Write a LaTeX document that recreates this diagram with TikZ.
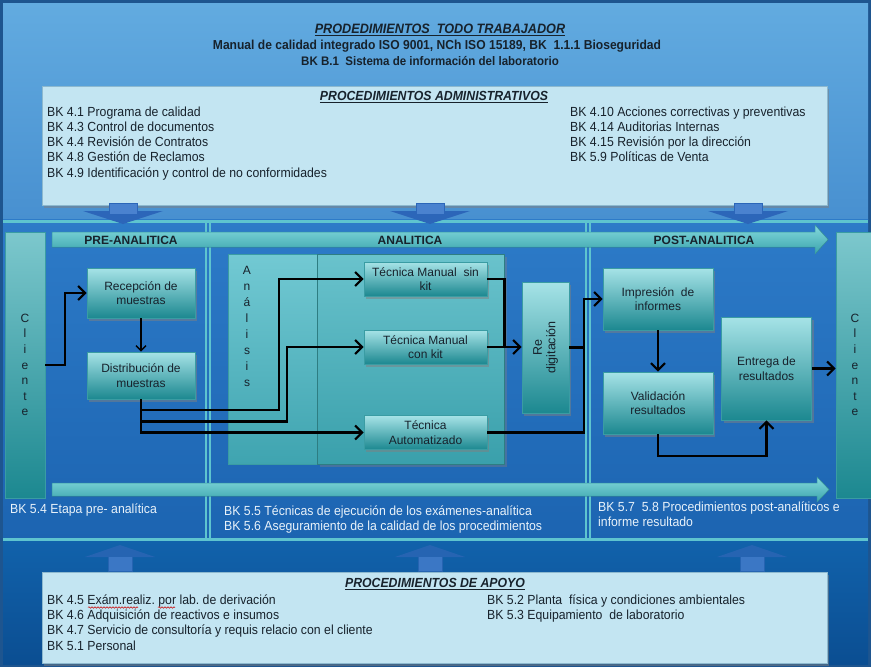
\documentclass[tikz,border=0pt]{standalone}
\usepackage{fontspec}
\setmainfont{Liberation Sans}
\newfontfamily\narrowfont[FakeStretch=0.93]{Liberation Sans}
\usetikzlibrary{arrows.meta,shadows,calc,decorations.pathmorphing}

\definecolor{skytop}{HTML}{62ABE0}
\definecolor{skybot}{HTML}{4890D0}
\definecolor{midtop}{HTML}{2D7BC8}
\definecolor{midbot}{HTML}{1C64B1}
\definecolor{lowtop}{HTML}{1162AB}
\definecolor{lowbot}{HTML}{0B4E92}
\definecolor{frame}{HTML}{1E558F}
\definecolor{paleblue}{HTML}{C3E5F2}
\definecolor{paleedge}{HTML}{8DB9CF}
\definecolor{tealhi}{HTML}{A6E3E7}
\definecolor{teallo}{HTML}{1C8890}
\definecolor{tealedge}{HTML}{3A9CA3}
\definecolor{tealline}{HTML}{5EC4CF}
\definecolor{bandhi}{HTML}{84D9DD}
\definecolor{bandlo}{HTML}{3AA4AC}
\definecolor{panelhi}{HTML}{72C9D3}
\definecolor{panello}{HTML}{3FA4B0}
\definecolor{inkdark}{HTML}{17222C}
\definecolor{darrow}{HTML}{2C66B9}
\definecolor{darrowstem}{HTML}{4A82CF}
\definecolor{uarrow}{HTML}{2664B2}
\definecolor{uarrowstem}{HTML}{3B77C5}
\definecolor{noteink}{HTML}{E8F2FA}

\begin{document}
\begin{tikzpicture}[x=1pt,y=-1pt,
  stagebox/.style={draw=tealedge, line width=0.6pt, top color=tealhi, bottom color=teallo,
    drop shadow={shadow xshift=2pt,shadow yshift=-2.5pt,opacity=0.5},
    font=\fontsize{12}{14.5}\selectfont, text=inkdark, align=center, inner sep=2pt},
  clientbox/.style={draw=tealedge, line width=0.6pt, top color=tealhi!70!teallo, bottom color=teallo,
    font=\fontsize{12}{15.6}\selectfont, text=inkdark, align=center, inner sep=0pt},
  infobox/.style={draw=paleedge, line width=0.8pt, fill=paleblue,
    drop shadow={shadow xshift=2pt,shadow yshift=-2.5pt,opacity=0.5}},
  infotext/.style={font=\narrowfont\fontsize{13.2}{15.2}\selectfont, text=inkdark, align=left, inner sep=0pt, anchor=north west},
  infohead/.style={font=\narrowfont\bfseries\itshape\fontsize{13.2}{15}\selectfont, text=inkdark, inner sep=0pt},
  notetext/.style={font=\narrowfont\fontsize{13.2}{15.2}\selectfont, text=noteink, align=left, inner sep=0pt, anchor=north west},
  bandlabel/.style={font=\bfseries\fontsize{12}{14}\selectfont, text=inkdark, inner sep=0pt},
  conn/.style={line width=2.2pt, draw=black},
  tip/.style={-{Straight Barb[length=7pt,width=14pt]}},
  sepline/.style={draw=tealline, line width=1.3pt},
  dnarrow/.pic={
    \fill[darrow] (-40,8) -- (40,8) -- (0,21) -- cycle;
    \fill[darrowstem, draw=darrow, line width=1pt] (-14,0) rectangle (14,11);
  },
  uparrow/.pic={
    \fill[uarrow] (-35,12) -- (35,12) -- (0,0) -- cycle;
    \fill[uarrowstem, draw=uarrow, line width=1pt] (-12,11) rectangle (12,26);
  }
]
\useasboundingbox (0,0) rectangle (871,667);

% ---------- background bands ----------
\fill[frame] (0,0) rectangle (871,667);
\fill[top color=skytop, bottom color=skybot] (3,3) rectangle (868,219);
\fill[top color=midtop, bottom color=midbot] (3,219) rectangle (868,540);
\fill[top color=lowtop, bottom color=lowbot] (3,540) rectangle (868,664);

% separators between the stages
\draw[draw=tealline, line width=3pt] (3,221) -- (868,221);
\draw[draw=tealline, line width=3pt] (3,539) -- (868,539);
\foreach \sx in {206,210,586,590}
  \draw[sepline] (\sx,222) -- (\sx,538);

% ---------- header ----------
\node[infohead, font=\narrowfont\bfseries\itshape\fontsize{13.6}{15}\selectfont] (ttl) at (440,30)
  {\underline{PRODEDIMIENTOS\ \ TODO TRABAJADOR}};
\node[font=\narrowfont\bfseries\fontsize{13}{15}\selectfont, text=inkdark, inner sep=0pt] (ttl2) at (437,46)
  {Manual de calidad integrado ISO 9001, NCh ISO 15189, BK\ \ 1.1.1 Bioseguridad};
\node[font=\narrowfont\bfseries\fontsize{12.4}{15}\selectfont, text=inkdark, inner sep=0pt] (ttl3) at (430,61)
  {BK B.1\ \ Sistema de información del laboratorio};

% ---------- administrative procedures ----------
\node[infobox, minimum width=785pt, minimum height=119pt] (adm) at (434.5,145.5) {};
\node[infohead] (admh) at (434,97) {\underline{PROCEDIMIENTOS ADMINISTRATIVOS}};
\node[infotext] (admL) at (47,106.5) {BK 4.1 Programa de calidad\\BK 4.3 Control de documentos\\BK 4.4 Revisión de Contratos\\BK 4.8 Gestión de Reclamos\\BK 4.9 Identificación y control de no conformidades};
\node[infotext] (admR) at (570,106.5) {BK 4.10 Acciones correctivas y preventivas\\BK 4.14 Auditorias Internas\\BK 4.15 Revisión por la dirección\\BK 5.9 Políticas de Venta};

\pic at (123,203) {dnarrow};
\pic at (430,203) {dnarrow};
\pic at (748,203) {dnarrow};

% ---------- stage bands ----------
\fill[top color=bandhi, bottom color=bandlo, draw=tealedge, line width=0.5pt]
  (52,232) -- (815,232) -- (815,225) -- (828,239.5) -- (815,254) -- (815,247) -- (52,247) -- cycle;
\fill[top color=bandhi, bottom color=bandlo, draw=tealedge, line width=0.5pt]
  (52,483) -- (817,483) -- (817,477) -- (829,489.5) -- (817,502) -- (817,496) -- (52,496) -- cycle;
\node[bandlabel] (lpre) at (131,240) {PRE-ANALITICA};
\node[bandlabel] (lana) at (410,240) {ANALITICA};
\node[bandlabel] (lpost) at (704,240) {POST-ANALITICA};

% ---------- clients ----------
\node[clientbox, minimum width=40pt, minimum height=266pt] (cliL) at (25,365) {C\\l\\i\\e\\n\\t\\e};
\node[clientbox, minimum width=38pt, minimum height=266pt] (cliR) at (855,365) {C\\l\\i\\e\\n\\t\\e};

% ---------- analysis panel ----------
\node[draw=tealedge, line width=0.6pt, top color=panelhi, bottom color=panello,
      minimum width=276pt, minimum height=210pt, inner sep=0pt] (panel) at (366,359) {};
\node[draw=tealedge!80!black, line width=0.6pt, top color=panelhi!90!teallo, bottom color=panello!85!teallo,
      drop shadow={shadow xshift=2pt,shadow yshift=-2.5pt,opacity=0.4},
      minimum width=187pt, minimum height=210pt, inner sep=0pt] (panelin) at (411,359) {};
\node[font=\fontsize{12}{16}\selectfont, text=inkdark, align=center, inner sep=0pt] (anl) at (247,326)
  {A\\n\\á\\l\\i\\s\\i\\s};

% ---------- process steps ----------
\node[stagebox, minimum width=108pt, minimum height=50pt] (rec) at (141,293) {Recepción de\\muestras};
\node[stagebox, minimum width=108pt, minimum height=47pt] (dist) at (141,375.5) {Distribución de\\muestras};
\node[stagebox, minimum width=123pt, minimum height=34pt] (tsk) at (425.5,279) {Técnica Manual\ \ sin\\kit};
\node[stagebox, minimum width=123pt, minimum height=34pt] (tck) at (425.5,347) {Técnica Manual\\con kit};
\node[stagebox, minimum width=123pt, minimum height=34pt] (tau) at (425.5,432.5) {Técnica\\Automatizado};
\node[stagebox, minimum width=47pt, minimum height=131pt] (redig) at (545.5,347.5) {};
\node[font=\fontsize{12.5}{13.5}\selectfont, text=inkdark, align=center, rotate=90, inner sep=0pt] (redigt) at (redig.center) {Re\\digitación};
\node[stagebox, minimum width=110pt, minimum height=62pt] (imp) at (658,299) {Impresión\ \ de\\informes};
\node[stagebox, minimum width=110pt, minimum height=62pt] (val) at (658,403) {Validación\\resultados};
\node[stagebox, minimum width=90pt, minimum height=103pt] (ent) at (766.5,368.5) {Entrega de\\resultados};

% ---------- flow ----------
\draw[conn, tip] (cliL.east) -- ++(20,0) |- (rec.west);
\draw[line width=1.4pt, -{Straight Barb[length=5pt,width=10pt]}] (rec.south) -- (dist.north);
\draw[conn, tip] (dist.south) |- (279,410) |- (tsk.west);
\draw[conn, tip] (dist.south) |- (287,421.5) |- (tck.west);
\draw[conn, tip] (dist.south) |- (tau.west);
\draw[conn] (tsk.east) -| ($(tck.east)!0.5!(redig.west)$);
\draw[conn, tip] (tck.east) -- (redig.west |- tck.east);
\draw[conn] (redig.east) -- ++(15,0);
\draw[conn, tip] (tau.east) -| ($(redig.east)+(15,0)$) |- (imp.west);
\draw[conn, tip] (imp.south) -- (val.north);
\draw[conn, tip] (val.south) -- ++(0,22) -| (ent.south);
\draw[conn, tip] (ent.east) -- (cliR.west |- ent.east);

% ---------- stage references ----------
\node[notetext] (n54) at (10,503.5) {BK 5.4 Etapa pre- analítica};
\node[notetext] (n55) at (224,505.5) {BK 5.5 Técnicas de ejecución de los exámenes-analítica\\BK 5.6 Aseguramiento de la calidad de los procedimientos};
\node[notetext] (n57) at (598,501.5) {BK 5.7\ \ 5.8 Procedimientos\ post-analíticos e\\informe resultado};

\pic at (120,545) {uparrow};
\pic at (430,545) {uparrow};
\pic at (752,545) {uparrow};

% ---------- support procedures ----------
\node[infobox, minimum width=785pt, minimum height=91pt] (apo) at (434.5,617.5) {};
\node[infohead] (apoh) at (435,584) {\underline{PROCEDIMIENTOS DE APOYO}};
\node[infotext] (apoL) at (47,594.5) {BK 4.5 Exám.realiz.\ por lab.\ de derivación\\BK 4.6 Adquisición de reactivos e insumos\\BK 4.7 Servicio de consultoría y requis relacio con el cliente\\BK 5.1 Personal};
\node[infotext] (apoR) at (487,594.5) {BK 5.2 Planta\ \ física y condiciones ambientales\\BK 5.3 Equipamiento\ \ de laboratorio};
% spell-check squiggles
\draw[red!80!black, line width=0.5pt, decorate, decoration={snake, amplitude=0.8pt, segment length=3pt}]
  (88,607.5) -- (138,607.5);
\draw[red!80!black, line width=0.5pt, decorate, decoration={snake, amplitude=0.8pt, segment length=3pt}]
  (158,607.5) -- (175,607.5);
\end{tikzpicture}
\end{document}
